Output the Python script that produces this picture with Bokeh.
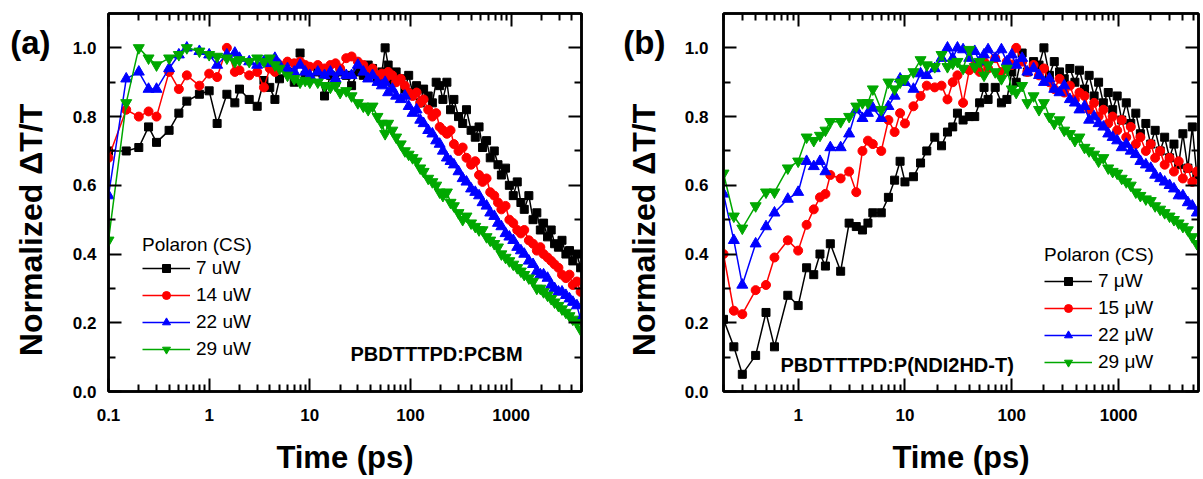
import json
from bokeh.plotting import figure
from bokeh.layouts import row
from bokeh.models import (FixedTicker, LogAxis, LinearAxis, Range1d, Label, Legend,
                          LegendItem, PrintfTickFormatter, CustomJSTickFormatter)
from bokeh.embed import file_html
from bokeh.resources import INLINE

FONT = "Liberation Sans"

# ---------------- data: panel (a) PBDTTTPD:PCBM ----------------
time_a = [0.1, 0.15, 0.2, 0.25, 0.3, 0.4, 0.5, 0.6, 0.8, 1.0, 1.2, 1.5, 1.8, 2.0, 2.5, 3.0, 3.5,
          4.0, 4.5, 5, 6, 7, 8, 9, 10, 12, 14, 16, 18, 20, 23, 26, 30, 34, 38, 42, 47, 52, 56,
          60, 66, 72, 80, 88, 96, 105, 115, 125, 135, 150, 165, 180, 195, 210, 230, 250, 270,
          300, 330, 360, 400, 440, 480, 520, 570, 620, 680, 740, 800, 880, 960, 1050, 1150,
          1250, 1350, 1500, 1650, 1800, 1950, 2100, 2300, 2500, 2700, 2950, 3200, 3500, 3800,
          4100, 4500, 4900]
a_7uW = [0.70, 0.70, 0.71, 0.77, 0.725, 0.76, 0.81, 0.845, 0.865, 0.875, 0.78, 0.865, 0.84,
         0.88, 0.85, 0.83, 0.905, 0.885, 0.85, 0.91, 0.93, 0.90, 0.985, 0.92, 0.91, 0.93, 0.86,
         0.92, 0.90, 0.93, 0.92, 0.89, 0.93, 0.92, 0.95, 0.94, 0.91, 0.93, 1.0, 0.95, 0.90,
         0.93, 0.91, 0.88, 0.92, 0.87, 0.89, 0.84, 0.88, 0.86, 0.84, 0.90, 0.89, 0.85, 0.90,
         0.82, 0.85, 0.80, 0.78, 0.82, 0.76, 0.74, 0.77, 0.71, 0.73, 0.68, 0.70, 0.66, 0.63,
         0.65, 0.60, 0.57, 0.61, 0.55, 0.53, 0.57, 0.50, 0.52, 0.47, 0.49, 0.45, 0.47, 0.43,
         0.42, 0.44, 0.40, 0.41, 0.38, 0.40, 0.36]
a_14uW = [0.68, 0.82, 0.80, 0.815, 0.80, 0.93, 0.88, 0.92, 0.89, 0.925, 0.915, 1.0, 0.93,
          0.935, 0.92, 0.93, 0.885, 0.94, 0.93, 0.95, 0.96, 0.955, 0.96, 0.95, 0.945, 0.95,
          0.94, 0.95, 0.955, 0.94, 0.97, 0.975, 0.96, 0.95, 0.93, 0.94, 0.92, 0.925, 0.91,
          0.93, 0.92, 0.90, 0.91, 0.89, 0.87, 0.86, 0.87, 0.84, 0.85, 0.82, 0.80, 0.81, 0.77,
          0.76, 0.75, 0.76, 0.72, 0.70, 0.71, 0.68, 0.66, 0.67, 0.63, 0.61, 0.62, 0.58, 0.57,
          0.55, 0.53, 0.54, 0.50, 0.49, 0.47, 0.46, 0.47, 0.44, 0.43, 0.41, 0.42, 0.40, 0.39,
          0.38, 0.37, 0.36, 0.34, 0.33, 0.34, 0.31, 0.32, 0.29]
a_22uW = [0.57, 0.91, 0.93, 0.88, 0.88, 0.94, 0.98, 1.0, 0.99, 0.98, 0.95, 0.98, 0.985, 0.97,
          0.96, 0.95, 0.96, 0.955, 0.97, 0.95, 0.94, 0.93, 0.95, 0.93, 0.92, 0.93, 0.92, 0.93,
          0.91, 0.93, 0.92, 0.92, 0.95, 0.93, 0.91, 0.92, 0.90, 0.89, 0.90, 0.87, 0.88, 0.86,
          0.85, 0.86, 0.83, 0.81, 0.82, 0.79, 0.78, 0.76, 0.75, 0.73, 0.72, 0.70, 0.68, 0.67,
          0.66, 0.64, 0.62, 0.61, 0.59, 0.58, 0.57, 0.55, 0.54, 0.52, 0.51, 0.49, 0.48, 0.46,
          0.45, 0.44, 0.42, 0.41, 0.40, 0.38, 0.37, 0.35, 0.34, 0.34, 0.33, 0.31, 0.30, 0.29,
          0.29, 0.28, 0.27, 0.26, 0.25, 0.21]
a_29uW = [0.44, 0.84, 1.0, 0.97, 0.95, 0.97, 0.98, 1.0, 0.99, 0.98, 0.975, 0.97, 0.96, 0.965,
          0.96, 0.97, 0.96, 0.97, 0.95, 0.94, 0.92, 0.91, 0.90, 0.905, 0.90, 0.90, 0.89, 0.885,
          0.89, 0.87, 0.875, 0.86, 0.84, 0.83, 0.82, 0.83, 0.80, 0.78, 0.75, 0.78, 0.76, 0.74,
          0.72, 0.70, 0.69, 0.68, 0.67, 0.65, 0.64, 0.62, 0.61, 0.60, 0.58, 0.57, 0.58, 0.55,
          0.54, 0.52, 0.50, 0.51, 0.49, 0.48, 0.47, 0.47, 0.45, 0.44, 0.43, 0.42, 0.40, 0.39,
          0.38, 0.37, 0.36, 0.35, 0.34, 0.33, 0.32, 0.30, 0.30, 0.29, 0.28, 0.27, 0.26, 0.25,
          0.24, 0.23, 0.22, 0.21, 0.20, 0.18]

# ---------------- data: panel (b) PBDTTTPD:P(NDI2HD-T) ----------------
time_b = [0.2, 0.25, 0.3, 0.4, 0.5, 0.6, 0.8, 1.0, 1.2, 1.4, 1.6, 1.8, 2.0, 2.5, 3.0, 3.5, 4.0,
          4.5, 5, 6, 7, 8, 9, 10, 12, 14, 16, 19, 22, 25, 28, 31, 35, 40, 45, 50, 55, 60, 70,
          80, 90, 100, 110, 125, 140, 160, 180, 200, 225, 250, 280, 310, 350, 390, 430, 480,
          530, 590, 650, 720, 800, 880, 970, 1070, 1180, 1300, 1450, 1600, 1800, 2000, 2200,
          2450, 2700, 3000, 3300, 3650, 4000, 4450, 4900, 5400]
b_7uW = [0.21, 0.13, 0.05, 0.105, 0.23, 0.13, 0.28, 0.25, 0.36, 0.34, 0.40, 0.365, 0.43, 0.35,
         0.49, 0.48, 0.47, 0.49, 0.52, 0.52, 0.565, 0.615, 0.67, 0.61, 0.625, 0.665, 0.70,
         0.74, 0.715, 0.755, 0.77, 0.81, 0.79, 0.80, 0.80, 0.84, 0.885, 0.85, 0.885, 0.84,
         0.85, 0.93, 0.90, 0.985, 0.93, 0.96, 0.95, 1.0, 0.92, 0.96, 0.93, 0.91, 0.94, 0.90,
         0.935, 0.88, 0.92, 0.86, 0.90, 0.84, 0.87, 0.82, 0.86, 0.79, 0.84, 0.78, 0.81, 0.75,
         0.78, 0.72, 0.76, 0.70, 0.74, 0.68, 0.72, 0.66, 0.75, 0.65, 0.77, 0.63]
b_15uW = [0.40, 0.235, 0.225, 0.295, 0.31, 0.39, 0.44, 0.41, 0.485, 0.53, 0.565, 0.575, 0.63,
          0.62, 0.64, 0.58, 0.70, 0.73, 0.72, 0.70, 0.79, 0.755, 0.81, 0.78, 0.83, 0.86, 0.89,
          0.885, 0.89, 0.85, 0.90, 0.92, 0.84, 0.935, 0.95, 0.93, 0.96, 0.94, 0.97, 0.93, 0.96,
          0.95, 1.0, 0.96, 0.93, 0.95, 0.92, 0.94, 0.90, 0.88, 0.91, 0.87, 0.89, 0.85, 0.87,
          0.86, 0.82, 0.84, 0.80, 0.82, 0.78, 0.80, 0.76, 0.79, 0.74, 0.77, 0.72, 0.74, 0.70,
          0.72, 0.68, 0.70, 0.66, 0.68, 0.64, 0.67, 0.62, 0.65, 0.61, 0.64]
b_22uW = [0.575, 0.44, 0.31, 0.43, 0.48, 0.52, 0.56, 0.58, 0.67, 0.655, 0.67, 0.64, 0.71, 0.71,
          0.75, 0.82, 0.795, 0.81, 0.825, 0.795, 0.83, 0.86, 0.91, 0.90, 0.88, 0.925, 0.92,
          0.94, 0.97, 1.0, 0.97, 1.0, 0.995, 0.97, 0.99, 0.96, 0.98, 0.995, 0.97, 0.995, 0.96,
          0.98, 0.95, 0.97, 0.93, 0.94, 0.92, 0.90, 0.91, 0.88, 0.87, 0.89, 0.85, 0.84, 0.82,
          0.83, 0.79, 0.80, 0.78, 0.77, 0.75, 0.74, 0.73, 0.71, 0.72, 0.70, 0.69, 0.67, 0.66,
          0.65, 0.63, 0.62, 0.61, 0.60, 0.59, 0.57, 0.57, 0.55, 0.54, 0.52]
b_29uW = [0.635, 0.51, 0.475, 0.54, 0.58, 0.58, 0.65, 0.67, 0.74, 0.73, 0.745, 0.76, 0.785,
          0.785, 0.80, 0.83, 0.84, 0.84, 0.88, 0.82, 0.90, 0.88, 0.90, 0.91, 0.93, 0.965, 0.95,
          0.945, 0.98, 0.945, 0.955, 0.96, 0.94, 0.995, 0.945, 0.96, 0.92, 0.95, 0.93, 0.91,
          0.94, 0.88, 0.87, 0.89, 0.84, 0.86, 0.82, 0.84, 0.80, 0.78, 0.79, 0.76, 0.75, 0.73,
          0.74, 0.71, 0.70, 0.69, 0.67, 0.68, 0.65, 0.64, 0.635, 0.62, 0.61, 0.60, 0.58, 0.57,
          0.56, 0.555, 0.54, 0.53, 0.52, 0.51, 0.50, 0.49, 0.48, 0.47, 0.45, 0.43]

labels_a = ["7 uW", "14 uW", "22 uW", "29 uW"]
labels_b = ["7 \u03bcW", "15 \u03bcW", "22 \u03bcW", "29 \u03bcW"]
colors = ["#000000", "#ff0000", "#0000ff", "#00a800"]
markers = ["square", "circle", "triangle", "inverted_triangle"]
msizes = [8, 9, 11, 11]

x_major = [0.1, 1, 10, 100, 1000]
x_minor = [m * d for d in [0.1, 1, 10, 100, 1000] for m in range(2, 10)]
y_major = [0.0, 0.2, 0.4, 0.6, 0.8, 1.0]
y_minor = [0.1, 0.3, 0.5, 0.7, 0.9]

Y_TITLE = "Normalized \u0394T/T"
X_TITLE = "Time (ps)"


def style_axis(ax, show_labels=True):
    ax.axis_line_width = 2.5
    ax.axis_line_color = "black"
    ax.major_tick_line_width = 2
    ax.minor_tick_line_width = 2
    ax.major_tick_line_color = "black"
    ax.minor_tick_line_color = "black"
    ax.major_tick_in = 13
    ax.major_tick_out = 0
    ax.minor_tick_in = 7
    ax.minor_tick_out = 0
    ax.major_label_text_font = FONT
    ax.major_label_text_font_style = "bold"
    ax.major_label_text_font_size = "17px"
    ax.major_label_text_color = "black"
    if not show_labels:
        ax.major_label_text_font_size = "1px"
        ax.major_label_text_alpha = 0
        ax.major_label_standoff = 0


def text_axis(text, value, size, standoff, orientation="horizontal"):
    """A bare left axis carrying a single text label at a given y value."""
    ax = LinearAxis(ticker=FixedTicker(ticks=[value], minor_ticks=[]),
                    formatter=CustomJSTickFormatter(code="return %s;" % json.dumps(text)))
    ax.axis_line_color = None
    ax.major_tick_line_color = None
    ax.minor_tick_line_color = None
    ax.major_tick_in = 0
    ax.major_tick_out = 0
    ax.minor_tick_in = 0
    ax.minor_tick_out = 0
    ax.major_label_text_font = FONT
    ax.major_label_text_font_style = "bold"
    ax.major_label_text_font_size = size
    ax.major_label_text_color = "black"
    ax.major_label_standoff = standoff
    ax.major_label_orientation = orientation
    return ax


def make_panel(times, series, labels, xr, frame_w, border_l, border_r, tag, sample,
               sample_xy, legend_xy, title_gap, ytick_standoff, ylab_standoff, tag_standoff):
    p = figure(x_axis_type="log", x_range=Range1d(*xr), y_range=Range1d(0, 1.1),
               frame_width=frame_w, frame_height=378,
               min_border_left=border_l, min_border_right=border_r,
               min_border_top=13, min_border_bottom=87,
               output_backend="svg", toolbar_location=None)
    p.xgrid.visible = False
    p.ygrid.visible = False
    p.outline_line_color = "black"
    p.outline_line_width = 2.5
    p.background_fill_color = "white"
    p.border_fill_color = "white"

    p.xaxis.ticker = FixedTicker(ticks=x_major, minor_ticks=x_minor)
    p.xaxis.formatter = CustomJSTickFormatter(code="return String(tick);")
    p.yaxis.ticker = FixedTicker(ticks=y_major, minor_ticks=y_minor)
    p.yaxis.formatter = PrintfTickFormatter(format="%.1f")
    for ax in p.xaxis:
        style_axis(ax)
        ax.major_label_standoff = 17
        ax.axis_label = X_TITLE
        ax.axis_label_text_font = FONT
        ax.axis_label_text_font_style = "bold"
        ax.axis_label_text_font_size = "31px"
        ax.axis_label_text_color = "black"
        ax.axis_label_standoff = 16
    for ax in p.yaxis:
        style_axis(ax)
        ax.major_label_standoff = ytick_standoff

    top = LogAxis(ticker=FixedTicker(ticks=x_major, minor_ticks=x_minor))
    style_axis(top, show_labels=False)
    p.add_layout(top, "above")
    right = LinearAxis(ticker=FixedTicker(ticks=y_major, minor_ticks=y_minor))
    style_axis(right, show_labels=False)
    p.add_layout(right, "right")

    # y title (rotated) and panel tag, placed as extra bare left axes
    p.add_layout(text_axis(Y_TITLE, 0.47, "32px", ylab_standoff, "vertical"), "left")
    p.add_layout(text_axis(tag, 1.017, "33px", tag_standoff), "left")

    items = []
    for vals, lab, col, mk, ms in zip(series, labels, colors, markers, msizes):
        ln = p.line(times, vals, line_color=col, line_width=1.5)
        sc = p.scatter(times, vals, marker=mk, size=ms, fill_color=col, line_color=col)
        items.append(LegendItem(label=lab, renderers=[ln, sc]))

    legend = Legend(items=items, location=legend_xy, title="Polaron (CS)",
                    background_fill_alpha=0, border_line_color=None,
                    padding=0, margin=0, spacing=5,
                    glyph_width=48, glyph_height=20, label_height=20,
                    label_standoff=6,
                    label_text_font=FONT, label_text_font_size="19px",
                    label_text_color="black",
                    title_text_font=FONT, title_text_font_size="19px",
                    title_text_color="black",
                    title_text_font_style="normal", title_standoff=title_gap)
    p.add_layout(legend)

    p.add_layout(Label(x=sample_xy[0], y=sample_xy[1], x_units="screen", y_units="screen",
                       text=sample, text_font=FONT, text_font_style="bold",
                       text_color="black",
                       text_font_size="20px", text_baseline="middle", text_align="left"))
    return p


pa = make_panel(time_a, [a_7uW, a_14uW, a_22uW, a_29uW], labels_a, (0.1, 5000), 473, 108, 27,
                "(a)", "PBDTTTPD:PCBM", (242, 38), (34, 31), 1, 12, 20, -40)
pb = make_panel(time_b, [b_7uW, b_15uW, b_22uW, b_29uW], labels_b, (0.2, 5600), 475, 115, 3,
                "(b)", "PBDTTTPD:P(NDI2HD-T)", (57, 27), (321, 18), 4, 15, 19, -42)

layout = row(pa, pb)
open("out.html", "w").write(file_html(layout, INLINE))
